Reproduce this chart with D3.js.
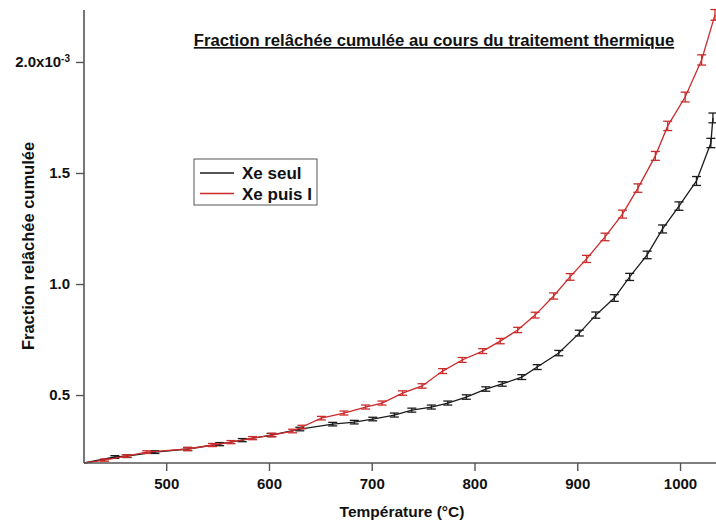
<!DOCTYPE html>
<html><head><meta charset="utf-8">
<script src="https://cdn.jsdelivr.net/npm/d3@7"></script>
<style>
body{margin:0;background:#fff;}
svg{display:block;font-family:"Liberation Sans",Arial,sans-serif;font-weight:bold;}
</style></head>
<body><svg id="c" width="716" height="522"></svg>
<script>
// Data (values ×1e-3)
const xeSeulT = [420,450,462,489,521,552,574,602,630,662,683,701,722,739,758,774,792,811,827,846,861,882,902,918,936,951,968,983,999,1016,1030,1032];
const xeSeulV = [0.194,0.221,0.225,0.243,0.257,0.279,0.297,0.320,0.347,0.369,0.378,0.392,0.410,0.432,0.446,0.464,0.491,0.527,0.550,0.581,0.626,0.689,0.779,0.860,0.937,1.032,1.131,1.248,1.351,1.464,1.635,1.748];
const xeSeulErr = [0.004,0.006,0.006,0.006,0.007,0.007,0.007,0.007,0.008,0.008,0.008,0.008,0.009,0.009,0.009,0.009,0.010,0.010,0.010,0.011,0.011,0.012,0.013,0.014,0.015,0.016,0.017,0.018,0.019,0.020,0.021,0.022];
const xePuisIT = [420,440,461,481,521,545,563,584,603,623,632,651,673,694,710,730,749,769,788,808,825,842,859,877,893,909,927,944,959,976,988,1005,1021,1034];
const xePuisIV = [0.194,0.207,0.225,0.243,0.257,0.275,0.288,0.306,0.320,0.338,0.356,0.396,0.419,0.446,0.464,0.509,0.541,0.608,0.658,0.698,0.743,0.793,0.860,0.946,1.032,1.113,1.212,1.315,1.432,1.577,1.712,1.842,2.009,2.212];
const xePuisIErr = [0.004,0.005,0.006,0.006,0.007,0.007,0.007,0.007,0.008,0.008,0.008,0.008,0.009,0.009,0.009,0.010,0.010,0.011,0.011,0.011,0.012,0.012,0.013,0.014,0.015,0.016,0.017,0.018,0.019,0.020,0.021,0.022,0.023,0.024];
const xTicks = [500,600,700,800,900,1000];
const yTicks = [0.5,1.0,1.5,2.0];
const yTickLabels = ["0.5","1.0","1.5","2.0x10"];
const seriesNames = ["Xe seul","Xe puis I"];
const seriesColors = ["#1c1c1c","#cc2b2b"];
const titleText = "Fraction relâchée cumulée au cours du traitement thermique";
const xTitle = "Température (°C)";
const yTitle = "Fraction relâchée cumulée";

const svg = d3.select("#c");
const L=84, R=716, T=10, B=463;
const x = d3.scaleLinear().domain([420,1035]).range([L,R]);
const y = d3.scaleLinear().domain([0.194,2.234]).range([B,T]);
const axisColor = "#555";

svg.append("defs").append("clipPath").attr("id","clip").append("rect")
  .attr("x",L).attr("y",0).attr("width",R-L+2).attr("height",B+2);

const series = [
  {T:xeSeulT,V:xeSeulV,E:xeSeulErr,color:seriesColors[0]},
  {T:xePuisIT,V:xePuisIV,E:xePuisIErr,color:seriesColors[1]}
];
const plot = svg.append("g").attr("clip-path","url(#clip)");
const line = d3.line().x(d=>x(d[0])).y(d=>y(d[1]));
series.forEach(s=>{
  const pts = s.T.map((t,i)=>[t,s.V[i],s.E[i]]);
  plot.append("path").datum(pts).attr("d",line).attr("fill","none")
    .attr("stroke",s.color).attr("stroke-width",1.3);
  const g = plot.append("g").attr("stroke",s.color).attr("stroke-width",1.3);
  pts.slice(1).forEach(p=>{
    const cx=x(p[0]), y1=y(p[1]+p[2]), y2=y(p[1]-p[2]);
    g.append("line").attr("x1",cx).attr("x2",cx).attr("y1",y1).attr("y2",y2);
    g.append("line").attr("x1",cx-4.5).attr("x2",cx+4.5).attr("y1",y1).attr("y2",y1);
    g.append("line").attr("x1",cx-4.5).attr("x2",cx+4.5).attr("y1",y2).attr("y2",y2);
  });
});

const xAxis = svg.append("g").attr("transform",`translate(0,${B})`)
  .call(d3.axisBottom(x).tickValues(xTicks).tickSize(8).tickPadding(7).tickSizeOuter(0).tickFormat(d3.format("d")));
const yAxis = svg.append("g").attr("transform",`translate(${L},0)`)
  .call(d3.axisLeft(y).tickValues(yTicks).tickSize(8).tickPadding(6).tickSizeOuter(0).tickFormat((d,i)=>yTickLabels[i]));
[xAxis,yAxis].forEach(a=>{
  a.select(".domain").attr("stroke",axisColor).attr("stroke-width",1.6);
  a.selectAll(".tick line").attr("stroke",axisColor).attr("stroke-width",1.4);
  a.selectAll(".tick text").attr("fill","#111").style("font-size","15px").style("font-weight","bold")
   .attr("font-family","Liberation Sans, Arial, sans-serif");
});
yAxis.selectAll(".tick text").filter(d=>d===2.0).each(function(){
  const t=d3.select(this);
  t.attr("x",-14);
  t.append("tspan").attr("dy","-0.55em").style("font-size","10px").text("-3");
});
xAxis.select(".domain").attr("d",`M${L},0H${R}`);
yAxis.select(".domain").attr("d",`M0,${T}V${B}`);

svg.append("text").attr("x",402).attr("y",517).attr("text-anchor","middle")
  .style("font-size","15.5px").attr("fill","#111").text(xTitle);
svg.append("text").attr("transform","translate(34,246) rotate(-90)").attr("text-anchor","middle")
  .style("font-size","16.5px").attr("fill","#111").text(yTitle);
svg.append("text").attr("x",434).attr("y",46).attr("text-anchor","middle")
  .style("font-size","16.7px").attr("fill","#111").attr("text-decoration","underline").text(titleText);

const lg = svg.append("g");
lg.append("rect").attr("x",194).attr("y",159).attr("width",123).attr("height",46)
  .attr("fill","#fff").attr("stroke","#555").attr("stroke-width",1);
seriesNames.forEach((n,i)=>{
  const yy = 173 + i*20.5;
  lg.append("line").attr("x1",200).attr("x2",234).attr("y1",yy).attr("y2",yy)
    .attr("stroke",seriesColors[i]).attr("stroke-width",1.3);
  lg.append("text").attr("x",242).attr("y",yy+6).style("font-size","17px").attr("fill","#111").text(n);
});
</script></body></html>
